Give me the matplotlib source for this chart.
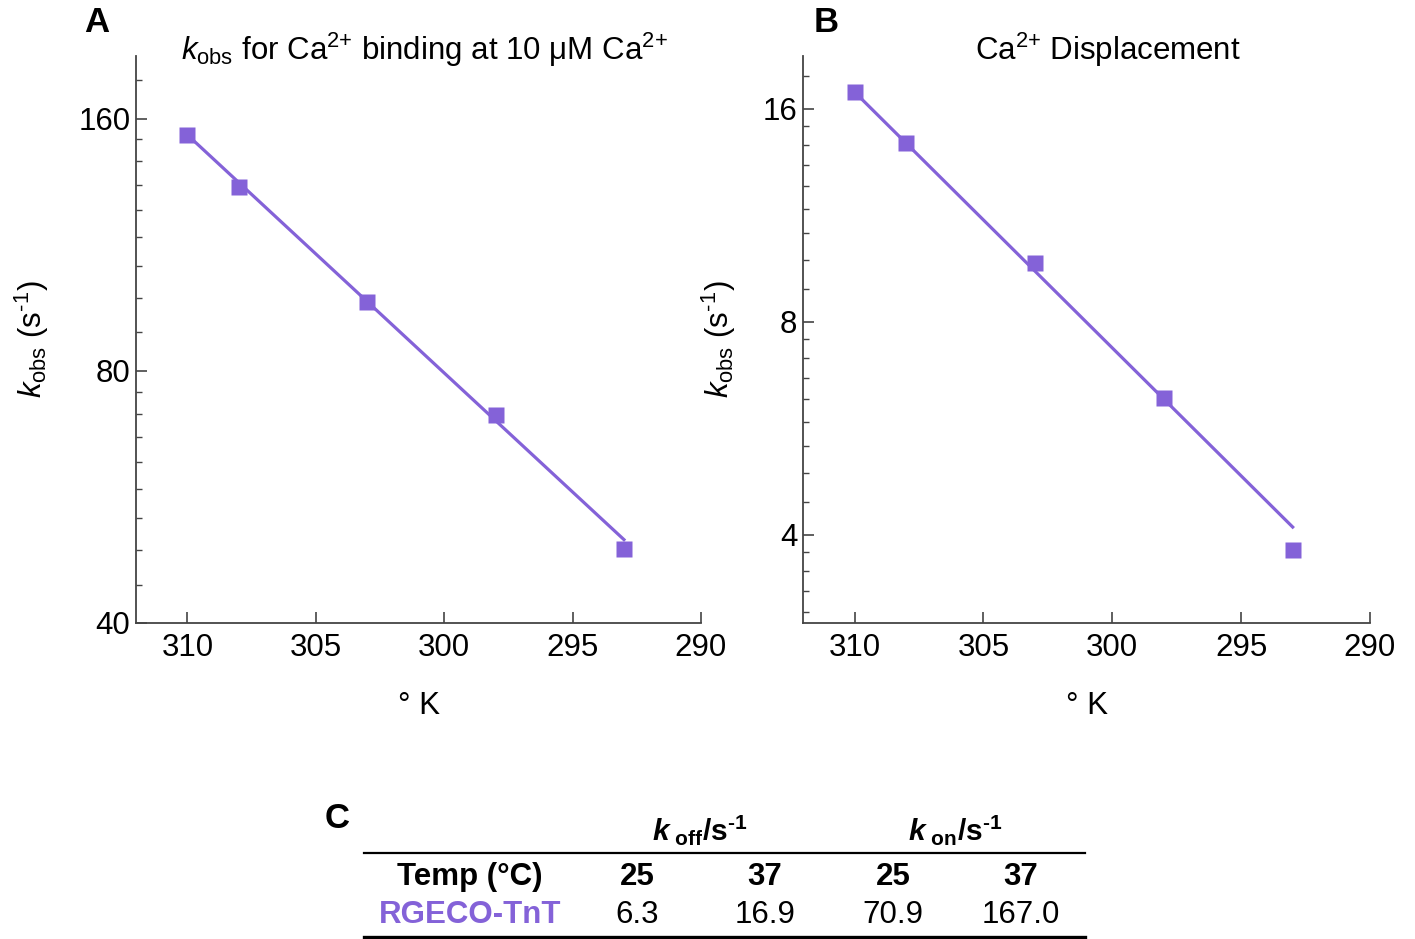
import numpy as np
import matplotlib
matplotlib.use("Agg")
from matplotlib import pyplot as plt
from matplotlib.ticker import FixedLocator, NullFormatter, FixedFormatter
from matplotlib.lines import Line2D

plt.rcParams['font.family'] = ['Liberation Sans', 'DejaVu Sans']
plt.rcParams['mathtext.fontset'] = 'custom'
plt.rcParams['mathtext.rm'] = 'Liberation Sans'
plt.rcParams['mathtext.it'] = 'Liberation Sans:italic'
plt.rcParams['mathtext.bf'] = 'Liberation Sans:bold'
plt.rcParams['mathtext.bfit'] = 'Liberation Sans:bold:italic'

temps = [310, 308, 303, 298, 293]
kobs_binding = [153.0, 132.6, 96.6, 70.9, 49.0]
kobs_displace = [16.9, 14.3, 9.7, 6.24, 3.8]

# ends of the fitted lines
fit_temps = [310, 293]
fit_binding = [153.0, 50.3]
fit_displace = [16.9, 4.1]

# table C
tbl_temps = ['25', '37', '25', '37']
tbl_name = 'RGECO-TnT'
tbl_values = ['6.3', '16.9', '70.9', '167.0']

purple = '#8462d8'
axcol = '#444444'
HY = '\u2010'  # short hyphen, mathtext would turn '-' into a long minus

fig = plt.figure(figsize=(14.15, 9.39), dpi=100)
W, H = 1415, 939


def px_axes(l, r, t, b):
    return fig.add_axes([l / W, 1 - b / H, (r - l) / W, (b - t) / H])


def style(ax, ylim, majors, ylab_x):
    ax.set_xlim(312, 290)
    ax.set_yscale('log', base=2)
    ax.set_ylim(*ylim)
    ax.xaxis.set_major_locator(FixedLocator([310, 305, 300, 295, 290]))
    ax.yaxis.set_major_locator(FixedLocator(majors))
    ax.yaxis.set_major_formatter(FixedFormatter([str(m) for m in majors]))
    # Mathematica style minor ticks: 8 linear steps between doublings
    minors = []
    for m in [majors[0] / 2] + majors:
        for k in range(1, 9):
            v = m * (1 + k / 9)
            if ylim[0] < v < ylim[1]:
                minors.append(v)
    ax.yaxis.set_minor_locator(FixedLocator(minors))
    ax.yaxis.set_minor_formatter(NullFormatter())
    for s in ['top', 'right']:
        ax.spines[s].set_visible(False)
    for s in ['left', 'bottom']:
        ax.spines[s].set_color(axcol)
        ax.spines[s].set_linewidth(1.3)
    ax.tick_params(axis='both', which='major', direction='in', length=8,
                   width=1.2, color=axcol, labelsize=22.5)
    ax.tick_params(axis='y', which='minor', direction='in', length=4.5,
                   width=1.0, color=axcol)
    ax.tick_params(axis='x', which='major', pad=7)
    ax.tick_params(axis='y', which='major', pad=4)
    ax.set_xlabel('\u00b0 K', fontsize=22.5, labelpad=20)
    ax.set_ylabel(r'$k_{\rm obs}$ (s$^{\rm ' + HY + '1}$)', fontsize=22.5)
    ax.yaxis.set_label_coords(ylab_x, 0.5)


axA = px_axes(136, 701, 56, 623)
axA.plot(fit_temps, fit_binding, '-', color=purple, lw=2.3, zorder=2)
axA.plot(temps, kobs_binding, 's', color=purple, ms=12, mec='none', zorder=3)
style(axA, (40, 190), [40, 80, 160], -0.15)
axA.text(0.51, 1.011, '$k_{\\rm obs}$ for Ca$^{2{+}}$ binding at 10 \u03bcM Ca$^{2{+}}$',
         transform=axA.transAxes, ha='center', va='center', fontsize=22.5)

axB = px_axes(803, 1370, 56, 623)
axB.plot(fit_temps, fit_displace, '-', color=purple, lw=2.3, zorder=2)
axB.plot(temps, kobs_displace, 's', color=purple, ms=12, mec='none', zorder=3)
style(axB, (3, 19), [4, 8, 16], -0.115)
axB.text(0.538, 1.011, 'Ca$^{2{+}}$ Displacement', transform=axB.transAxes,
         ha='center', va='center', fontsize=22.5)

fig.text(97 / W, 1 - 22 / H, 'A', fontsize=25, fontweight='bold', ha='center', va='center')
fig.text(826 / W, 1 - 22 / H, 'B', fontsize=25, fontweight='bold', ha='center', va='center')
fig.text(337 / W, 1 - 818 / H, 'C', fontsize=25, fontweight='bold', ha='center', va='center')

# table C
col_x = [637, 765, 893, 1021]
fig.text(700 / W, 1 - 830 / H, r'$\mathbfit{k}_{\mathbf{\ off}}\mathbf{/s}^{\mathbf{' + HY + '1}}$',
         fontsize=21.5, ha='center', va='center')
fig.text(955 / W, 1 - 830 / H, r'$\mathbfit{k}_{\mathbf{\ on}}\mathbf{/s}^{\mathbf{' + HY + '1}}$',
         fontsize=21.5, ha='center', va='center')
fig.text(470 / W, 1 - 877 / H, 'Temp (\u00b0C)', fontsize=22.5, fontweight='bold',
         ha='center', va='center')
fig.text(470 / W, 1 - 915 / H, tbl_name, fontsize=22.5, fontweight='bold', color=purple,
         ha='center', va='center')
for x, t, v in zip(col_x, tbl_temps, tbl_values):
    fig.text(x / W, 1 - 877 / H, t, fontsize=22.5, fontweight='bold', ha='center', va='center')
    fig.text(x / W, 1 - 915 / H, v, fontsize=22.5, ha='center', va='center')
fig.add_artist(Line2D([364 / W, 1085 / W], [1 - 853 / H, 1 - 853 / H], color='black', lw=1.6))
fig.add_artist(Line2D([364 / W, 1085 / W], [1 - 936.5 / H, 1 - 936.5 / H], color='black', lw=2.4))

fig.savefig('out.png', dpi=100)
